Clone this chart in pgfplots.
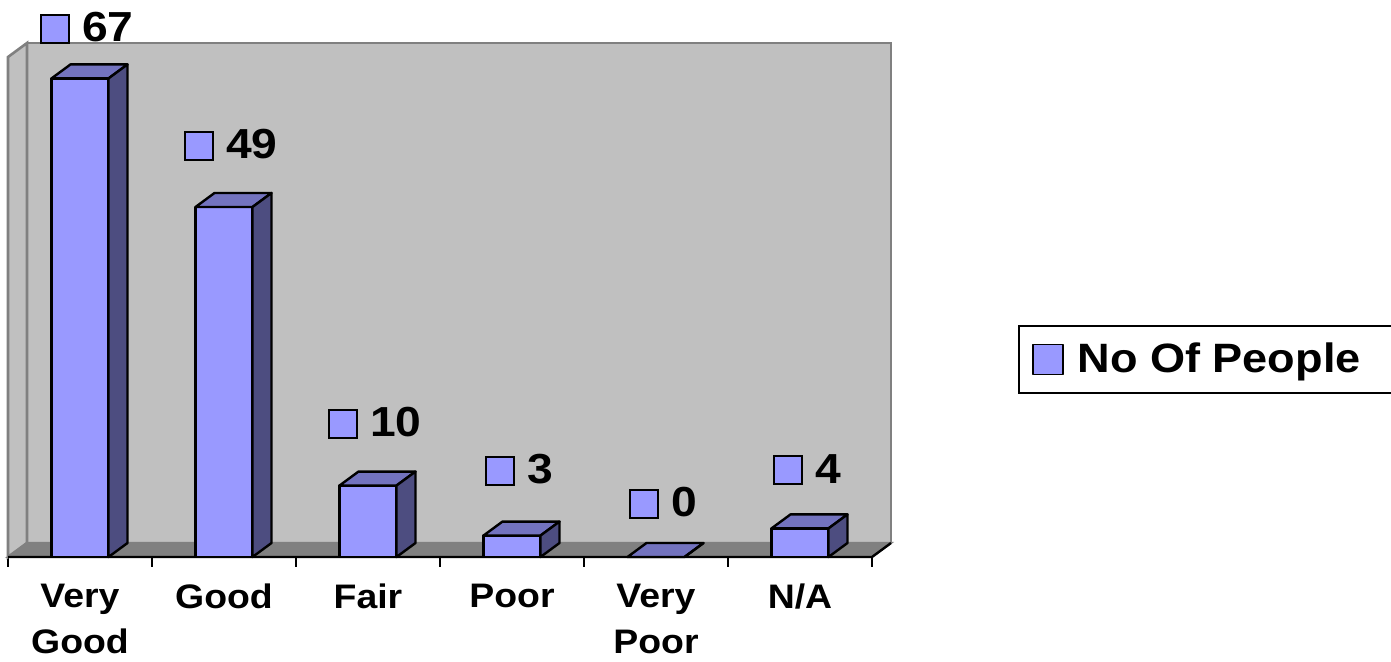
\documentclass[border=0pt]{standalone}
\usepackage{pgfplots}
\pgfplotsset{compat=1.18}
\usepackage{pgfplotstable}
\usepackage{fontspec}
\setmainfont{Liberation Sans}[FakeStretch=1.1]

\definecolor{barfront}{HTML}{9999FF}
\definecolor{bartop}{HTML}{7373BF}
\definecolor{barside}{HTML}{4D4D80}
\definecolor{wallfill}{HTML}{C0C0C0}
\definecolor{wallline}{HTML}{808080}
\definecolor{floorfill}{HTML}{808080}

% x = category centre, n = number of people, off = label lift (pt)
\pgfplotstableread{
x   n   off
0.5 67  25.2
1.5 49  31.0
2.5 10  31.3
3.5 3   32.8
4.5 0   27.0
5.5 4   29.2
}\ratings

% depth of the 3-D effect: 9.5pt right, 7pt up
\newcommand\depx{0.132}
\newcommand\depy{1.96}

% top and side faces of a bar, drawn at the bar's top front centre
\pgfdeclareplotmark{bartopside}{%
  \pgfmathsetlengthmacro{\barh}{\nval*3.5714286pt}%
  \pgfpathmoveto{\pgfqpoint{-14.25pt}{0pt}}%
  \pgfpathlineto{\pgfqpoint{14.25pt}{0pt}}%
  \pgfpathlineto{\pgfqpoint{23.75pt}{7pt}}%
  \pgfpathlineto{\pgfqpoint{-4.75pt}{7pt}}%
  \pgfpathclose
  \pgfsetfillcolor{bartop}%
  \pgfusepath{fill,stroke}%
  \pgfpathmoveto{\pgfqpoint{14.25pt}{0pt}}%
  \pgfpathlineto{\pgfqpoint{23.75pt}{7pt}}%
  \pgfpathlineto{\pgfpoint{23.75pt}{7pt-\barh}}%
  \pgfpathlineto{\pgfpoint{14.25pt}{-\barh}}%
  \pgfpathclose
  \pgfsetfillcolor{barside}%
  \pgfusepath{fill,stroke}%
}

\newcommand\labkey{{\setlength\fboxsep{0pt}\setlength\fboxrule{1pt}%
  \fcolorbox{black}{barfront}{\makebox[13pt]{\rule{0pt}{13pt}}}}}

\begin{document}
\begin{tikzpicture}
\useasboundingbox (0,0) rectangle (695.5pt,331pt);
\begin{axis}[
  at={(4pt,52.5pt)}, anchor=south west,
  width=432pt, height=250pt, scale only axis,
  xmin=0, xmax=6, ymin=0, ymax=70,
  clip=false,
  /pgf/number format/assume math mode=true,
  axis line style={draw=none},
  xtick pos=bottom,
  ytick=\empty,
  xtick={0.5,1.5,2.5,3.5,4.5,5.5},
  xticklabels={{Very\\Good},Good,Fair,Poor,{Very\\Poor},N/A},
  major tick length=0pt,
  xticklabel style={font=\bfseries\fontsize{17}{23}\selectfont,
    align=center, anchor=north, yshift=-10pt},
  extra x ticks={0,1,2,3,4,5,6},
  extra x tick labels={},
  extra x tick style={major tick length=5pt, tick align=outside,
    tick style={black, line width=1pt}},
  legend style={at={(1.169,0.395)}, anchor=west, draw=black,
    line width=0.75pt, inner xsep=6.5pt, inner ysep=6.5pt,
    font=\bfseries\fontsize{20.5}{24}\selectfont},
  legend cell align=left,
]
% back wall, side wall and floor
\fill[wallfill, draw=wallline, line width=1.3pt]
  (axis cs:\depx,\depy) rectangle (axis cs:6+\depx,70+\depy);
\fill[wallfill, draw=wallline, line width=1.3pt]
  (axis cs:0,0) -- (axis cs:0,70) -- (axis cs:\depx,70+\depy)
  -- (axis cs:\depx,\depy) -- cycle;
\fill[floorfill, draw=wallline, line width=1pt]
  (axis cs:0,0) -- (axis cs:6,0) -- (axis cs:6+\depx,\depy)
  -- (axis cs:\depx,\depy) -- cycle;
\draw[black, line width=1.2pt]
  (axis cs:0,0) -- (axis cs:6,0) -- (axis cs:6+\depx,\depy);

% front faces
\addplot[ybar, bar width=28.5pt, fill=barfront, draw=black,
  line width=1.2pt, line join=round,
  legend image code/.code={\draw[fill=barfront, draw=black, line width=0.9pt]
    (0pt,-7.5pt) rectangle (15pt,7.5pt);}]
  table[x=x, y=n] {\ratings};
\addlegendentry{\hspace*{5pt}No Of People\hspace*{8pt}}

% top and side faces with value labels
\addplot[only marks, mark=bartopside, draw=black, line width=1.2pt,
  line join=round,
  visualization depends on={\thisrow{n} \as \nval},
  visualization depends on={\thisrow{off} \as \laboff},
  point meta=y,
  nodes near coords={\labkey\hspace{6pt}\pgfmathprintnumber{\pgfplotspointmeta}},
  every node near coord/.append style={anchor=center, xshift=3.5pt,
    yshift=\laboff pt, font=\bfseries\fontsize{21}{25}\selectfont},
  forget plot]
  table[x=x, y=n] {\ratings};
\end{axis}
\end{tikzpicture}
\end{document}
